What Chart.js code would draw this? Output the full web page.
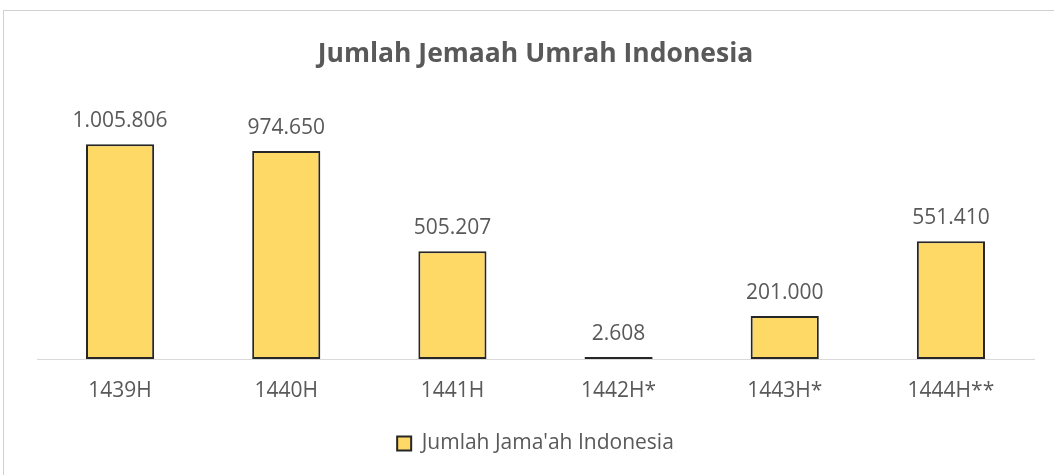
<!DOCTYPE html>
<html>
<head>
<meta charset="utf-8">
<script src="https://cdn.jsdelivr.net/npm/chart.js@4"></script>
<style>
  body { margin: 0; background: #fff; }
  #wrap { position: relative; width: 1054px; height: 475px; overflow: hidden; }
  #marco { position: absolute; left: 3px; top: 10px; width: 1100px; height: 500px; border: 1px solid #d0d0d0; pointer-events: none; }
</style>
</head>
<body>
<div id="wrap">
  <canvas id="grafico" width="1054" height="475"></canvas>
  <div id="marco"></div>
</div>
<script>
const tahun = ['1439H', '1440H', '1441H', '1442H*', '1443H*', '1444H**'];
const jamaah = [1005806, 974650, 505207, 2608, 201000, 551410];

const gris = '#595959';
const amarillo = '#FFD966';
const borde = '#262626';

const formato = (n) => String(n).replace(/\B(?=(\d{3})+(?!\d))/g, '.');

// etiquetas encima de cada barra
const etiquetas = {
    id: 'etiquetas',
    afterDatasetsDraw(chart) {
        const ctx = chart.ctx;
        const meta = chart.getDatasetMeta(0);
        ctx.save();
        ctx.font = '21px "Open Sans"';
        ctx.fillStyle = gris;
        ctx.textAlign = 'center';
        ctx.textBaseline = 'alphabetic';
        meta.data.forEach((bar, i) => {
            ctx.fillText(formato(jamaah[i]), bar.x, bar.y - 17);
        });
        ctx.restore();
    }
};

const canva = document.getElementById('grafico');
window.myChart = new Chart(canva, {
    type: 'bar',
    data: {
        labels: tahun,
        datasets: [{
            label: "Jumlah Jama'ah Indonesia",
            data: jamaah,
            backgroundColor: amarillo,
            borderColor: borde,
            borderWidth: 2,
            borderSkipped: false,
            minBarLength: 2,
            barPercentage: 0.41,
            categoryPercentage: 1
        }]
    },
    options: {
        responsive: false,
        animation: false,
        layout: { padding: { left: 37, right: 20, top: 0, bottom: 11 } },
        scales: {
            x: {
                grid: { display: false, drawTicks: false },
                border: { display: true, color: '#d9d9d9', width: 1 },
                ticks: { color: gris, font: { family: 'Open Sans', size: 21 }, padding: 19 },
                afterFit: (axis) => { axis.height = 64; }
            },
            y: {
                display: false,
                min: 0,
                max: 1200000
            }
        },
        plugins: {
            title: {
                display: true,
                text: 'Jumlah Jemaah Umrah Indonesia',
                color: gris,
                font: { family: 'Open Sans', size: 26.5, weight: 'bold', lineHeight: 1.2 },
                padding: { top: 39, bottom: 32 }
            },
            legend: {
                position: 'bottom',
                labels: {
                    color: gris,
                    font: { family: 'Open Sans', size: 21 },
                    boxWidth: 14,
                    boxHeight: 14,
                    padding: 10
                }
            },
            tooltip: { enabled: false }
        }
    },
    plugins: [etiquetas]
});
</script>
</body>
</html>
